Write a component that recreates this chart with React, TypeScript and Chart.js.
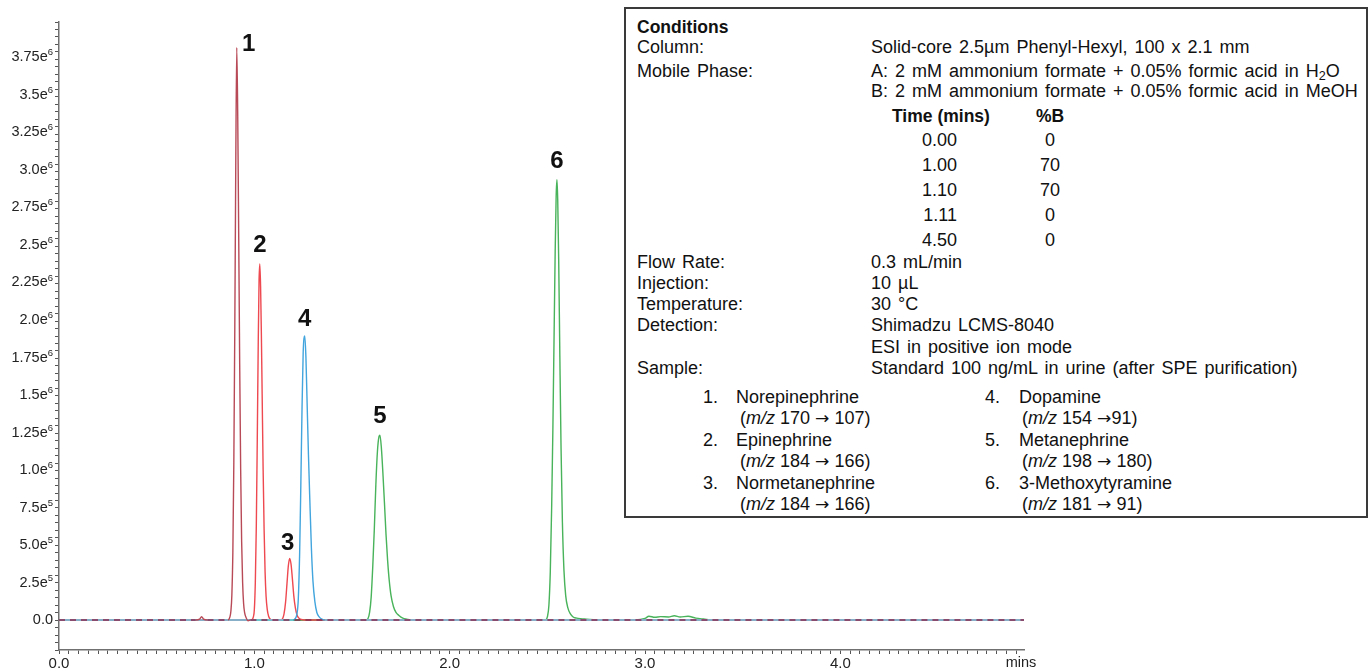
import React, { useEffect, useRef } from 'react';
import { Chart, registerables } from 'chart.js';

Chart.register(...registerables);

// ---------- data (retention time in minutes, intensity in counts) ----------
const norepiTimes = [0, 0.70, 0.72, 0.73, 0.74, 0.76, 0.865, 0.875, 0.880, 0.885, 0.890, 0.895, 0.900, 0.905, 0.910, 0.915, 0.920, 0.925, 0.930, 0.935, 0.940, 0.945, 0.950, 0.958, 0.968, 0.980, 4.94];
const norepiValues = [0, 0, 5000, 22000, 6000, 0, 0, 20000, 60000, 170000, 450000, 1050000, 1950000, 3050000, 3810000, 3350000, 2550000, 1700000, 1000000, 520000, 250000, 110000, 50000, 15000, -5000, 0, 0];

const epiTimes = [0, 0.985, 0.995, 1.000, 1.005, 1.010, 1.015, 1.020, 1.024, 1.028, 1.032, 1.036, 1.040, 1.045, 1.050, 1.055, 1.060, 1.066, 1.073, 1.082, 1.095, 1.135, 1.145, 1.152, 1.160, 1.167, 1.174, 1.181, 1.188, 1.195, 1.202, 1.210, 1.218, 1.228, 1.240, 1.255, 4.94];
const epiValues = [0, 0, 20000, 70000, 250000, 620000, 1200000, 1850000, 2250000, 2370000, 2220000, 1900000, 1500000, 1000000, 600000, 320000, 160000, 70000, 25000, 5000, 0, 0, 10000, 40000, 120000, 240000, 360000, 410000, 370000, 270000, 160000, 80000, 35000, 12000, 3000, 0, 0];

const dopaTimes = [0, 1.200, 1.210, 1.218, 1.225, 1.232, 1.238, 1.244, 1.250, 1.258, 1.264, 1.270, 1.277, 1.284, 1.292, 1.300, 1.310, 1.320, 1.332, 1.345, 1.360, 4.94];
const dopaValues = [0, 0, 10000, 40000, 140000, 450000, 900000, 1400000, 1780000, 1890000, 1750000, 1450000, 1100000, 800000, 480000, 260000, 120000, 50000, 20000, 5000, 0, 0];

const metaTimes = [0, 1.570, 1.582, 1.590, 1.598, 1.606, 1.614, 1.622, 1.630, 1.638, 1.643, 1.650, 1.658, 1.666, 1.674, 1.682, 1.690, 1.700, 1.712, 1.725, 1.740, 1.760, 1.780, 1.800, 4.94];
const metaValues = [0, 0, 10000, 50000, 150000, 350000, 600000, 900000, 1120000, 1220000, 1230000, 1150000, 980000, 780000, 570000, 400000, 270000, 160000, 90000, 50000, 30000, 12000, 5000, 0, 0];

const mtTimes = [0, 2.490, 2.500, 2.508, 2.515, 2.522, 2.528, 2.534, 2.540, 2.545, 2.549, 2.553, 2.558, 2.564, 2.570, 2.577, 2.585, 2.594, 2.605, 2.618, 2.632, 2.650, 2.670, 2.700, 2.750, 2.950, 3.000, 3.020, 3.050, 3.080, 3.120, 3.150, 3.180, 3.220, 3.260, 3.300, 3.350, 4.94];
const mtValues = [0, 0, 20000, 100000, 320000, 750000, 1250000, 1850000, 2450000, 2820000, 2930000, 2800000, 2400000, 1750000, 1150000, 650000, 330000, 160000, 80000, 40000, 20000, 12000, 8000, 5000, 0, 0, 10000, 25000, 18000, 22000, 20000, 28000, 20000, 25000, 12000, 6000, 0, 0];

const peakNumbers = ['1', '2', '3', '4', '5', '6'];
const peakTimes = [0.910, 1.028, 1.181, 1.258, 1.643, 2.549];
const peakHeights = [3810000, 2370000, 410000, 1890000, 1230000, 2930000];

const xTickLabels = ['0.0', '1.0', '2.0', '3.0', '4.0'];
const yTickValues = [0, 250000, 500000, 750000, 1000000, 1250000, 1500000, 1750000, 2000000, 2250000, 2500000, 2750000, 3000000, 3250000, 3500000, 3750000];
const yTickMantissas = ['0.0', '2.5e', '5.0e', '7.5e', '1.0e', '1.25e', '1.5e', '1.75e', '2.0e', '2.25e', '2.5e', '2.75e', '3.0e', '3.25e', '3.5e', '3.75e'];
const yTickExponents = ['', '5', '5', '5', '6', '6', '6', '6', '6', '6', '6', '6', '6', '6', '6', '6'];

// ---------- layout / style ----------
const W = 1370;
const H = 671;
const FONT = "'Liberation Sans', Arial, Helvetica, sans-serif";
const labelOffsets = [[12, -3], [0, -19], [-2, -15], [0, -17], [0, -19], [0, -18]];

const isBase = (ctx: any) => Math.abs(ctx.p0.parsed.y) < 1 && Math.abs(ctx.p1.parsed.y) < 1;

function series(times: number[], values: number[]) {
  return times.map((t, i) => ({ x: t, y: values[i] }));
}

const annotationPlugin = {
  id: 'annotations',
  afterDraw(chart: any) {
    const { ctx, scales, chartArea } = chart;
    ctx.save();
    // peak numbers
    ctx.fillStyle = '#111';
    ctx.font = `bold 24px ${FONT}`;
    ctx.textAlign = 'center';
    ctx.textBaseline = 'middle';
    peakNumbers.forEach((n, i) => {
      const x = scales.x.getPixelForValue(peakTimes[i]) + labelOffsets[i][0];
      const y = scales.y.getPixelForValue(peakHeights[i]) + labelOffsets[i][1];
      ctx.fillText(n, x, y);
    });
    // y tick labels with superscript exponents
    ctx.fillStyle = '#222';
    const right = chartArea.left - 6;
    yTickValues.forEach((v, i) => {
      const y = scales.y.getPixelForValue(v);
      ctx.font = `9.5px ${FONT}`;
      const ew = yTickExponents[i] ? ctx.measureText(yTickExponents[i]).width : 0;
      if (yTickExponents[i]) {
        ctx.textAlign = 'left';
        ctx.textBaseline = 'middle';
        ctx.fillText(yTickExponents[i], right - ew, y - 4);
      }
      ctx.font = `14.5px ${FONT}`;
      ctx.textAlign = 'right';
      ctx.textBaseline = 'middle';
      ctx.fillText(yTickMantissas[i], right - ew, y + 0.5);
    });
    // axis unit
    ctx.font = `14.5px ${FONT}`;
    ctx.textAlign = 'center';
    ctx.textBaseline = 'middle';
    ctx.fillText('mins', chartArea.right - 3, chartArea.bottom + 13);
    ctx.restore();
  },
};

type Item = { x: number; y: number; c: React.ReactNode; bold?: boolean; align?: 'l' | 'r' | 'c'; tight?: boolean };

const Arrow = () => <span style={{ fontFamily: "'DejaVu Sans', sans-serif", fontSize: '0.95em' }}>{'\u2192'}</span>;

const boxItems: Item[] = [
  { x: 637, y: 27, c: 'Conditions', bold: true },
  { x: 637, y: 47, c: 'Column:' },
  { x: 871, y: 47, c: 'Solid-core 2.5\u00b5m Phenyl-Hexyl, 100 x 2.1 mm' },
  { x: 637, y: 71, c: 'Mobile Phase:' },
  { x: 871, y: 71, c: <>A: 2 mM ammonium formate + 0.05% formic acid in H<sub style={{ fontSize: '0.7em', verticalAlign: '-0.25em', lineHeight: 0 }}>2</sub>O</> },
  { x: 871, y: 91, c: 'B: 2 mM ammonium formate + 0.05% formic acid in MeOH' },
  { x: 892, y: 116, c: 'Time (mins)', bold: true },
  { x: 1036, y: 116, c: '%B', bold: true },
  { x: 957, y: 140, c: '0.00', align: 'r' },
  { x: 1050, y: 140, c: '0', align: 'c' },
  { x: 957, y: 165, c: '1.00', align: 'r' },
  { x: 1050, y: 165, c: '70', align: 'c' },
  { x: 957, y: 190, c: '1.10', align: 'r' },
  { x: 1050, y: 190, c: '70', align: 'c' },
  { x: 957, y: 215, c: '1.11', align: 'r' },
  { x: 1050, y: 215, c: '0', align: 'c' },
  { x: 957, y: 240, c: '4.50', align: 'r' },
  { x: 1050, y: 240, c: '0', align: 'c' },
  { x: 637, y: 262, c: 'Flow Rate:' },
  { x: 871, y: 262, c: '0.3 mL/min' },
  { x: 637, y: 283, c: 'Injection:' },
  { x: 871, y: 283, c: '10 \u00b5L' },
  { x: 637, y: 304, c: 'Temperature:' },
  { x: 871, y: 304, c: '30 \u00b0C' },
  { x: 637, y: 325, c: 'Detection:' },
  { x: 871, y: 325, c: 'Shimadzu LCMS-8040' },
  { x: 871, y: 347, c: 'ESI in positive ion mode' },
  { x: 637, y: 368, c: 'Sample:' },
  { x: 871, y: 368, c: 'Standard 100 ng/mL in urine (after SPE purification)' },
  { x: 703, y: 397, c: '1.', tight: true },
  { x: 736, y: 397, c: 'Norepinephrine', tight: true },
  { x: 740, y: 418, c: <>(<i>m/z</i> 170 <Arrow /> 107)</>, tight: true },
  { x: 703, y: 440, c: '2.', tight: true },
  { x: 736, y: 440, c: 'Epinephrine', tight: true },
  { x: 740, y: 461, c: <>(<i>m/z</i> 184 <Arrow /> 166)</>, tight: true },
  { x: 703, y: 483, c: '3.', tight: true },
  { x: 736, y: 483, c: 'Normetanephrine', tight: true },
  { x: 740, y: 504, c: <>(<i>m/z</i> 184 <Arrow /> 166)</>, tight: true },
  { x: 985, y: 397, c: '4.', tight: true },
  { x: 1019, y: 397, c: 'Dopamine', tight: true },
  { x: 1022, y: 418, c: <>(<i>m/z</i> 154 <Arrow />91)</>, tight: true },
  { x: 985, y: 440, c: '5.', tight: true },
  { x: 1019, y: 440, c: 'Metanephrine', tight: true },
  { x: 1022, y: 461, c: <>(<i>m/z</i> 198 <Arrow /> 180)</>, tight: true },
  { x: 985, y: 483, c: '6.', tight: true },
  { x: 1019, y: 483, c: '3-Methoxytyramine', tight: true },
  { x: 1022, y: 504, c: <>(<i>m/z</i> 181 <Arrow /> 91)</>, tight: true },
];

export default function App() {
  const canvasRef = useRef<HTMLCanvasElement | null>(null);

  useEffect(() => {
    const canvas = canvasRef.current;
    if (!canvas) return;
    const lineBase = { pointRadius: 0, borderWidth: 1.4, cubicInterpolationMode: 'monotone' as const, fill: false };
    const chart = new Chart(canvas, {
      type: 'line',
      data: {
        datasets: [
          {
            ...lineBase,
            label: 'Norepinephrine',
            data: series(norepiTimes, norepiValues),
            borderColor: '#b84a57',
            segment: {
              borderDash: (c: any) => (isBase(c) ? [6, 5] : undefined),
              borderColor: (c: any) => (isBase(c) ? '#8a2b52' : undefined),
            },
          },
          {
            ...lineBase,
            label: 'Dopamine',
            data: series(dopaTimes, dopaValues),
            borderColor: '#42a5dd',
            segment: { borderColor: (c: any) => (isBase(c) ? '#72c9ee' : undefined) },
          },
          { ...lineBase, label: 'Epinephrine / Normetanephrine', data: series(epiTimes, epiValues), borderColor: '#ee4950' },
          { ...lineBase, label: 'Metanephrine', data: series(metaTimes, metaValues), borderColor: '#48b35a' },
          { ...lineBase, label: '3-Methoxytyramine', data: series(mtTimes, mtValues), borderColor: '#48b35a' },
        ],
      },
      options: {
        responsive: false,
        animation: false,
        layout: { padding: { left: 0, top: 22, right: 346, bottom: 0 } },
        plugins: { legend: { display: false }, tooltip: { enabled: false } },
        scales: {
          x: {
            type: 'linear',
            min: 0,
            max: 4.94,
            afterFit: (s: any) => { s.height = 21; },
            border: { color: '#707070', width: 1.5 },
            grid: { drawOnChartArea: false, drawTicks: true, tickLength: 4, color: '#555' },
            ticks: {
              stepSize: 0.05,
              autoSkip: false,
              maxRotation: 0,
              includeBounds: false,
              padding: 1,
              color: '#222',
              font: { size: 15, family: FONT },
              callback: (v: any) => {
                const n = Number(v);
                const r = Math.round(n);
                return Math.abs(n - r) < 1e-6 ? xTickLabels[r] ?? '' : '';
              },
            },
          },
          y: {
            type: 'linear',
            min: -200000,
            max: 3980000,
            afterFit: (s: any) => { s.width = 59; },
            border: { color: '#707070', width: 1.5 },
            grid: { drawOnChartArea: false, drawTicks: true, tickLength: 4, color: '#555' },
            ticks: {
              stepSize: 50000,
              autoSkip: false,
              includeBounds: false,
              padding: 2,
              color: '#222',
              callback: () => '',
            },
          },
        },
      },
      plugins: [annotationPlugin],
    });
    return () => chart.destroy();
  }, []);

  return (
    <div style={{ position: 'fixed', left: 0, top: 0, width: W, height: H, background: '#fff', fontFamily: FONT }}>
      <canvas ref={canvasRef} width={W} height={H} style={{ position: 'absolute', left: 0, top: 0, width: W, height: H }} />
      <div
        style={{
          position: 'absolute',
          left: 624,
          top: 7,
          width: 1368 - 624,
          height: 518 - 7,
          border: '2px solid #3a3a3a',
          boxSizing: 'border-box',
          background: '#fff',
        }}
      />
      {boxItems.map((it, i) => (
        <div
          key={i}
          style={{
            position: 'absolute',
            left: it.x,
            top: it.y - 11,
            lineHeight: '22px',
            fontSize: it.bold ? 17.5 : 18,
            wordSpacing: it.bold || it.tight ? 0 : 2,
            whiteSpace: 'nowrap',
            color: '#111',
            fontWeight: it.bold ? 'bold' : 'normal',
            transform: it.align === 'r' ? 'translateX(-100%)' : it.align === 'c' ? 'translateX(-50%)' : undefined,
          }}
        >
          {it.c}
        </div>
      ))}
    </div>
  );
}
